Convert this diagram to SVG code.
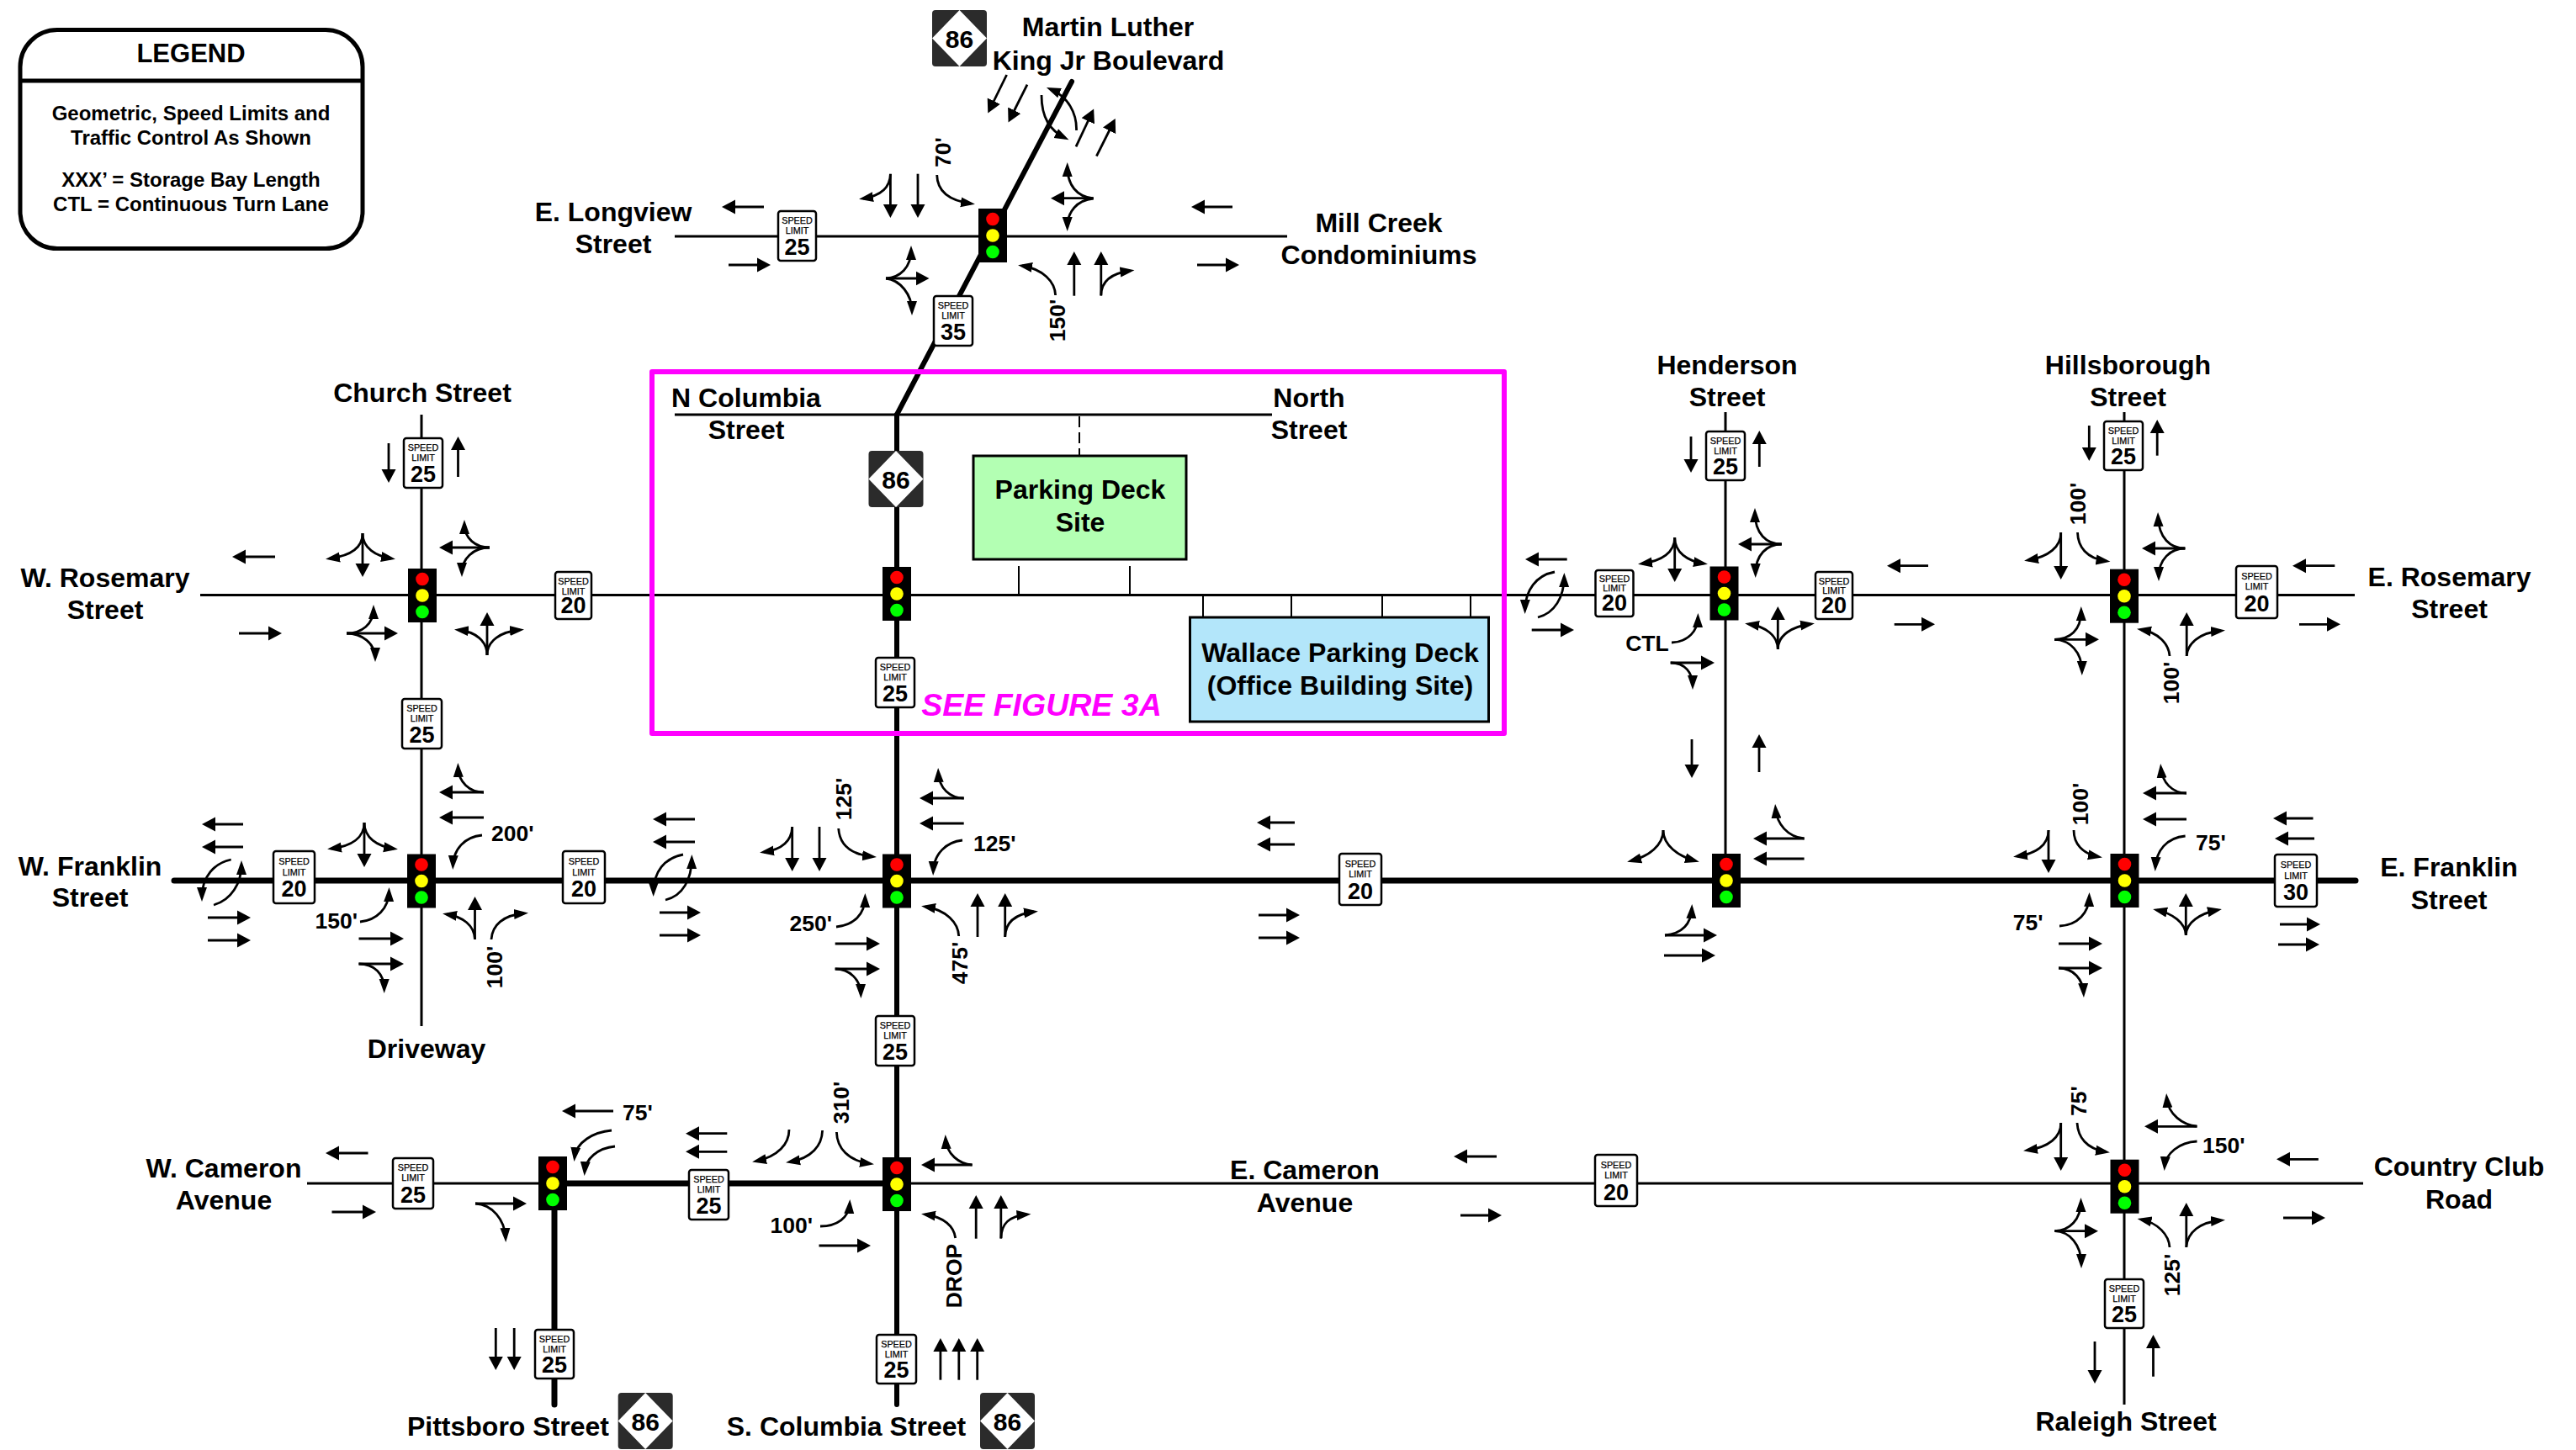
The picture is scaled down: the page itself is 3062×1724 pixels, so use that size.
<svg xmlns="http://www.w3.org/2000/svg" width="3062" height="1724" viewBox="0 0 3062 1724">
<style>
text{font-family:"Liberation Sans",Arial,sans-serif;font-weight:700;fill:#000;text-anchor:middle}
.l{font-size:32px}
.d{font-size:26.5px}
.e{text-anchor:end}
.st{text-anchor:start}
.lg{font-size:24px}
.s{font-size:10.8px;font-weight:400;stroke:#000;stroke-width:.25}
.num{font-size:27px}
.sg{fill:#fff;stroke:#000;stroke-width:2.5}
.thin,.thick,.stub,.a,.b,.n{fill:none;stroke:#000}
.thin{stroke-width:3}
.thick{stroke-width:7;stroke-linecap:round}
.stub{stroke-width:2}
.a,.b,.n{stroke-width:2.8}
.b{marker-end:url(#hb)}
.n{marker-end:url(#hn)}
</style>
<defs>
<marker id="hb" markerUnits="userSpaceOnUse" markerWidth="18" markerHeight="18" refX="11" refY="9" orient="auto"><path d="M0,.5L16,9L0,17.5Z"/></marker>
<marker id="hn" markerUnits="userSpaceOnUse" markerWidth="18" markerHeight="18" refX="12" refY="9" orient="auto"><path d="M0,3L17,9L0,15Z"/></marker>
<g id="sig"><rect x="-17" y="-32" width="34" height="64" fill="#000"/><circle cy="-19.5" r="7.8" fill="#f00"/><circle r="7.8" fill="#ff0"/><circle cy="19.5" r="7.8" fill="#0f0"/></g>
<g id="shield"><rect width="65" height="67" rx="4" fill="#2b2b2b"/><path d="M32.5,0L65,33.5L32.5,67L0,33.5Z" fill="#fff"/></g>
</defs>
<rect width="3062" height="1724" fill="#fff"/>

<g id="connectors">
<g id="roads">
<path class="thin" d="M802,281H1530"/>
<path class="thick" style="stroke-width:6" d="M1274,97L1066,493"/>
<path class="thick" style="stroke-width:6" d="M1066,493V1670"/>
<path class="thin" d="M802,493H1512"/>
<path class="stub" stroke-dasharray="13,6" d="M1283,495V542"/>
<path class="stub" d="M1211,673V708M1343,673V708M1430,708V734M1535,708V734M1643,708V734M1748,708V734"/>
<path class="thin" d="M238,707.5H2799"/>
<path class="thin" d="M501,493V1220"/>
<path class="thick" d="M207,1047H2800"/>
<path class="thin" d="M2051,490V1047"/>
<path class="thin" d="M2525,490V1670"/>
<path class="thin" d="M365,1407H2809"/>
<path class="thick" style="stroke-linecap:butt" d="M657,1407H1066"/>
<path class="thick" d="M659,1407V1670"/>
</g>
<g id="arrows">
<!-- Longview / MLK -->
<path class="b" d="M908,246H863"/><path class="b" d="M866,315H911"/>
<path class="b" d="M1196.6,89L1176.5,130"/><path class="b" d="M1221,100.7L1200.8,141"/>
<path class="n" d="M1238,113C1238,140 1248,155 1266,164"/>
<path class="n" d="M1279.5,155C1280,135 1270,115 1248.5,106"/>
<path class="b" d="M1279,174.3L1298,134"/><path class="b" d="M1303.4,185.7L1323.5,145.5"/>
<path class="b" d="M1299.6,235.7H1254"/>
<path class="n" d="M1299.6,236C1280,234 1268.7,220 1268.7,198"/>
<path class="n" d="M1299.6,236C1280,238 1268.7,252 1268.7,270"/>
<path class="b" d="M1465,246H1421"/><path class="b" d="M1423,315H1468"/>
<path class="b" d="M1058.4,206.7V254"/><path class="n" d="M1058.4,207C1058,225 1045,233 1026,236"/>
<path class="b" d="M1091,206.7V254"/>
<path class="n" d="M1113.7,208C1114,225 1125,238 1154,242"/>
<path class="b" d="M1053,331H1099.5"/>
<path class="n" d="M1053,331C1070,330 1083,318 1083,297"/>
<path class="n" d="M1053,331C1070,333 1084,350 1084,370"/>
<path class="n" d="M1254.6,351C1254,335 1240,320 1215,316"/>
<path class="b" d="M1276.8,351.7V304"/><path class="b" d="M1308.8,351.7V304"/>
<path class="n" d="M1308.8,351C1309,335 1320,325 1343.5,322"/>
<!-- Church / Rosemary -->
<path class="b" d="M431,634V681"/><path class="n" d="M431,634C431,652 415,661 392,664"/><path class="n" d="M431,634C431,652 447,661 465,664"/>
<path class="b" d="M582,651H527"/><path class="n" d="M582,651C565,651 552,640 552,623"/><path class="n" d="M582,651C562,651 549,665 549,681"/>
<path class="b" d="M412,753H468"/><path class="n" d="M412,753C430,753 444,742 444,724"/><path class="n" d="M412,753C430,753 446,765 446,782"/>
<path class="b" d="M579,779V733"/><path class="n" d="M579,779C579,762 565,751 545,749"/><path class="n" d="M579,779C579,762 595,751 618,749"/>
<path class="b" d="M327,662H281"/><path class="b" d="M284,753H330"/>
<path class="b" d="M462,527V569"/><path class="b" d="M544.5,567V524"/>
<!-- Church / Franklin -->
<path class="b" d="M289,980H245"/><path class="b" d="M289,1007H245"/>
<path class="n" d="M274.7,1022C255,1026 240,1042 240,1067"/>
<path class="n" d="M254,1076C275,1070 287,1050 287,1028"/>
<path class="b" d="M247,1091H293"/><path class="b" d="M247,1118H293"/>
<path class="b" d="M433,978V1026"/><path class="n" d="M433,978C433,996 418,1006 394,1009"/><path class="n" d="M433,978C433,996 448,1006 468,1009"/>
<path class="n" d="M428,1096C448,1094 462,1080 462.4,1060"/>
<path class="b" d="M426.5,1116H475"/><path class="b" d="M426.5,1146H475"/>
<path class="n" d="M426.5,1146C445,1146 456.7,1158 456.7,1176"/>
<path class="b" d="M564.5,1117V1071"/><path class="n" d="M564.5,1117C564,1100 550,1090 531,1087"/>
<path class="n" d="M584,1117C585,1100 598,1088 623,1086"/>
<path class="b" d="M575,942H527"/><path class="n" d="M575,942C558,942 545,930 544.5,912"/>
<path class="b" d="M575,972H527"/>
<path class="n" d="M573,993C552,995 539,1010 538.4,1029"/>
<!-- Main / Franklin -->
<path class="b" d="M826,974H781"/><path class="b" d="M826,1001H781"/>
<path class="n" d="M812,1016C790,1020 777,1036 776.7,1061"/>
<path class="n" d="M791,1070C812,1065 822,1045 822.3,1021"/>
<path class="b" d="M784,1085H828"/><path class="b" d="M784,1112H828"/>
<path class="b" d="M941.7,983V1031"/><path class="n" d="M941.7,983C941,1000 930,1010 908,1013"/>
<path class="b" d="M974,983V1031"/>
<path class="n" d="M996.7,985C998,1005 1012,1016 1037,1018.5"/>
<path class="b" d="M1145.7,949H1098"/><path class="n" d="M1145.7,949C1130,949 1116,938 1115.3,918"/>
<path class="b" d="M1145.7,979H1098"/>
<path class="n" d="M1144,999C1125,1001 1110,1015 1109.3,1036"/>
<path class="n" d="M1139.7,1113C1139,1097 1125,1082 1100,1078"/>
<path class="b" d="M1162,1114V1067"/><path class="b" d="M1194.7,1114V1067"/>
<path class="n" d="M1194.7,1114C1195,1098 1205,1087 1229,1084"/>
<path class="n" d="M994,1102C1015,1100 1028,1087 1028.3,1067"/>
<path class="b" d="M992.7,1122H1041"/><path class="b" d="M992.7,1152H1041"/>
<path class="n" d="M992.7,1152C1010,1152 1023,1165 1023.3,1182"/>
<!-- Henderson / Franklin -->
<path class="b" d="M1539,978H1499"/><path class="b" d="M1539,1004H1499"/>
<path class="b" d="M1496,1088H1540"/><path class="b" d="M1496,1115H1540"/>
<path class="b" d="M2011,879V920"/><path class="b" d="M2091,918V878"/>
<path class="n" d="M1977,987C1977,1005 1960,1018 1939,1023.5"/><path class="n" d="M1977,987C1977,1005 1995,1018 2015,1023.5"/>
<path class="b" d="M2144.6,997H2089"/><path class="n" d="M2144.6,997C2125,995 2112,980 2110.5,961"/>
<path class="b" d="M2144.6,1021H2089"/>
<path class="b" d="M1979,1112H2036"/><path class="n" d="M1979,1112C1998,1110 2010,1100 2011,1080"/>
<path class="b" d="M1978,1136H2034"/>
<!-- Hillsborough / Franklin -->
<path class="b" d="M2435,987V1033"/><path class="n" d="M2435,987C2435,1005 2420,1015 2398,1018"/>
<path class="n" d="M2465,987C2465,1003 2475,1015 2494,1018.5"/>
<path class="b" d="M2599,943H2552"/><path class="n" d="M2599,943C2582,943 2570,930 2568.6,913"/>
<path class="b" d="M2599,974H2552"/>
<path class="n" d="M2597.6,994C2575,996 2563,1012 2562,1031"/>
<path class="b" d="M2749.5,973H2707"/><path class="b" d="M2751,997H2709"/>
<path class="b" d="M2710,1099H2753"/><path class="b" d="M2708,1123H2752"/>
<path class="b" d="M2598.3,1112V1067"/><path class="n" d="M2598.3,1112C2598,1097 2582,1086 2564,1082"/><path class="n" d="M2598.3,1112C2598.5,1097 2615,1086 2636,1082"/>
<path class="n" d="M2448,1101C2470,1100 2483,1085 2483.4,1066"/>
<path class="b" d="M2447,1122H2494"/><path class="b" d="M2447,1151H2494"/>
<path class="n" d="M2447,1151C2465,1151 2476,1165 2476.7,1181"/>
<!-- Henderson / Rosemary -->
<path class="b" d="M2010,519V557"/><path class="b" d="M2091.3,555V517"/>
<path class="b" d="M1862.7,665H1818"/>
<path class="n" d="M1848,680C1826,684 1813,702 1812.7,725"/>
<path class="n" d="M1828,734C1848,729 1859,710 1859.3,686"/>
<path class="b" d="M1820.7,749H1866"/>
<path class="b" d="M1990.7,639V687"/><path class="n" d="M1990.7,639C1990.7,657 1975,667 1952,670"/><path class="n" d="M1990.7,639C1990.7,657 2006,667 2025,670"/>
<path class="b" d="M2117.7,647H2071"/><path class="n" d="M2117.7,647C2100,647 2086,635 2086,609"/><path class="n" d="M2117.7,647C2100,647 2086.7,660 2086.7,682"/>
<path class="b" d="M2113.3,772V726"/><path class="n" d="M2113.3,772C2113,755 2098,745 2079,742"/><path class="n" d="M2113.3,772C2113.5,755 2130,745 2152,742"/>
<path class="n" d="M1987,764C2007,763 2018,750 2018.3,734"/>
<path class="b" d="M1985.7,788H2033"/><path class="n" d="M1985.7,788C2003,788 2012,800 2012,815"/>
<path class="b" d="M2292,672.7H2248"/><path class="b" d="M2251.7,742.3H2295"/>
<!-- Hillsborough / Rosemary -->
<path class="b" d="M2483.3,506V543"/><path class="b" d="M2564.2,541.7V504"/>
<path class="b" d="M2449.7,633V684"/><path class="n" d="M2449.7,633C2450,650 2435,662 2411,666"/>
<path class="n" d="M2469.5,633C2470,650 2480,664 2503.5,667"/>
<path class="b" d="M2597.3,652H2551"/><path class="n" d="M2597.3,652C2580,652 2566,640 2565.2,614"/><path class="n" d="M2597.3,652C2580,652 2566,665 2566,686"/>
<path class="b" d="M2775.3,672.7H2730"/><path class="b" d="M2733,742.3H2777"/>
<path class="b" d="M2442,760.3H2490"/><path class="n" d="M2442,760.3C2460,760 2473.8,750 2473.8,726"/><path class="n" d="M2442,760.3C2460,760.5 2474.8,775 2474.8,798"/>
<path class="n" d="M2579,780C2578,765 2565,752 2545,748.5"/>
<path class="b" d="M2599.2,780V733"/><path class="n" d="M2599.2,780C2600,765 2615,752 2640,750"/>
<!-- W Cameron -->
<path class="b" d="M437.5,1371H392"/><path class="b" d="M394.5,1441H442"/>
<path class="b" d="M729,1321H673"/>
<path class="n" d="M727,1344C705,1346 685,1358 683,1376"/>
<path class="n" d="M731,1363C710,1365 696,1378 695,1393"/>
<path class="b" d="M864.3,1347.7H820"/><path class="b" d="M864.3,1369.3H820"/>
<path class="n" d="M938,1343C938,1360 925,1375 899,1380.5"/>
<path class="n" d="M977.6,1344C977,1362 965,1377 939,1381.5"/>
<path class="n" d="M994.4,1346C995,1365 1008,1380 1034,1383.5"/>
<path class="b" d="M1155.6,1385H1100"/><path class="n" d="M1155.6,1385C1140,1384 1125,1372 1124,1354"/>
<path class="n" d="M975,1458C995,1458 1009,1448 1010,1431"/>
<path class="b" d="M973.5,1481H1030"/>
<path class="n" d="M1135.7,1472C1134,1458 1122,1447 1100,1444"/>
<path class="b" d="M1160.2,1472.7V1426"/><path class="b" d="M1189.8,1472.7V1426"/>
<path class="n" d="M1190,1472C1190,1456 1198,1446 1220.5,1444"/>
<path class="b" d="M565,1431H621"/><path class="n" d="M565,1431C585,1432 600,1450 601,1472"/>
<path class="b" d="M589.3,1579V1624"/><path class="b" d="M611.2,1579V1624"/>
<path class="b" d="M1117.9,1640.7V1596"/><path class="b" d="M1139.8,1640.7V1596"/><path class="b" d="M1161.7,1640.7V1596"/>
<path class="b" d="M1779,1375H1733"/><path class="b" d="M1736,1445H1780"/>
<!-- Country Club -->
<path class="b" d="M2449.7,1335V1387"/><path class="n" d="M2449.7,1335C2450,1352 2435,1364 2410,1367.5"/>
<path class="n" d="M2469,1335C2470,1352 2480,1366 2503,1369.5"/>
<path class="b" d="M2611.5,1339.3H2554"/><path class="n" d="M2611.5,1339C2595,1338 2577,1325 2575.5,1305"/>
<path class="n" d="M2611.5,1357C2590,1358 2574,1372 2573,1387"/>
<path class="b" d="M2755.8,1378.3H2711"/><path class="b" d="M2714,1448H2759"/>
<path class="b" d="M2442.4,1463.7H2489"/><path class="n" d="M2442.4,1463.7C2460,1463 2473.5,1450 2473.5,1429"/><path class="n" d="M2442.4,1463.7C2460,1464 2474,1480 2474,1503"/>
<path class="n" d="M2579,1483C2578,1468 2565,1454 2545.5,1450"/>
<path class="b" d="M2598.8,1482.7V1435"/><path class="n" d="M2598.8,1483C2600,1465 2615,1453 2640,1451"/>
<path class="b" d="M2490,1595V1640"/><path class="b" d="M2559.5,1636.7V1592"/>
</g>
</g>

<g id="see-figure-box">
<rect x="775" y="442" width="1013" height="430" fill="none" stroke="#f0f" stroke-width="6" stroke-linejoin="round"/>
<text x="1238" y="851" font-size="37.5" font-style="italic" style="fill:#f0f">SEE FIGURE 3A</text>
</g>

<g id="legend">
<rect x="24" y="35.5" width="407" height="260" rx="44" fill="#fff" stroke="#000" stroke-width="5"/>
<path d="M24,96H431" stroke="#000" stroke-width="5"/>
<text x="227" y="74" font-size="31">LEGEND</text>
<text class="lg" x="227" y="143">Geometric, Speed Limits and</text>
<text class="lg" x="227" y="172">Traffic Control As Shown</text>
<text class="lg" x="227" y="222">XXX’ = Storage Bay Length</text>
<text class="lg" x="227" y="251">CTL = Continuous Turn Lane</text>
</g>

<g id="parking-deck-site"><rect x="1157" y="542" width="253" height="123" fill="#b3ffb3" stroke="#000" stroke-width="3"/><text x="1284" y="593" font-size="32">Parking Deck</text><text x="1284" y="632" font-size="32">Site</text></g>
<g id="wallace-parking-deck"><rect x="1414.5" y="734" width="355" height="124" fill="#b3e6fa" stroke="#000" stroke-width="3"/><text x="1593" y="787" font-size="32">Wallace Parking Deck</text><text x="1593" y="826" font-size="32">(Office Building Site)</text></g>

<g id="signal-longview"><use href="#sig" x="1180" y="280"/></g>
<g id="signal-church-rosemary"><use href="#sig" x="502" y="708"/></g>
<g id="signal-columbia-rosemary"><use href="#sig" x="1066" y="706"/></g>
<g id="signal-henderson-rosemary"><use href="#sig" x="2049.5" y="705.5"/></g>
<g id="signal-hillsborough-rosemary"><use href="#sig" x="2525" y="708.7"/></g>
<g id="signal-church-franklin"><use href="#sig" x="501" y="1047.5"/></g>
<g id="signal-columbia-franklin"><use href="#sig" x="1066" y="1047.5"/></g>
<g id="signal-henderson-franklin"><use href="#sig" x="2052" y="1047"/></g>
<g id="signal-hillsborough-franklin"><use href="#sig" x="2525.5" y="1047"/></g>
<g id="signal-pittsboro-cameron"><use href="#sig" x="657" y="1407"/></g>
<g id="signal-columbia-cameron"><use href="#sig" x="1066" y="1408"/></g>
<g id="signal-raleigh-cameron"><use href="#sig" x="2525.5" y="1410.7"/></g>

<g id="sign-1" transform="translate(947.5,251)"><rect class="sg" x="-22.5" width="45" height="59" rx="3"/><text class="s" y="15">SPEED</text><text class="s" y="27">LIMIT</text><text class="num" y="52">25</text></g>
<g id="sign-2" transform="translate(1133,352)"><rect class="sg" x="-23" width="46" height="59" rx="3"/><text class="s" y="15">SPEED</text><text class="s" y="27">LIMIT</text><text class="num" y="52">35</text></g>
<g id="sign-3" transform="translate(503,521)"><rect class="sg" x="-23" width="46" height="59" rx="3"/><text class="s" y="15">SPEED</text><text class="s" y="27">LIMIT</text><text class="num" y="52">25</text></g>
<g id="sign-4" transform="translate(501.5,831)"><rect class="sg" x="-23.5" width="47" height="59" rx="3"/><text class="s" y="15">SPEED</text><text class="s" y="27">LIMIT</text><text class="num" y="52">25</text></g>
<g id="sign-5" transform="translate(681.5,680)"><rect class="sg" x="-21.5" width="43" height="56" rx="3"/><text class="s" y="15">SPEED</text><text class="s" y="27">LIMIT</text><text class="num" y="49">20</text></g>
<g id="sign-6" transform="translate(1064,782)"><rect class="sg" x="-23" width="46" height="59" rx="3"/><text class="s" y="15">SPEED</text><text class="s" y="27">LIMIT</text><text class="num" y="52">25</text></g>
<g id="sign-7" transform="translate(2051,513)"><rect class="sg" x="-23" width="46" height="58" rx="3"/><text class="s" y="15">SPEED</text><text class="s" y="27">LIMIT</text><text class="num" y="51">25</text></g>
<g id="sign-8" transform="translate(1919,678)"><rect class="sg" x="-22.5" width="45" height="55" rx="3"/><text class="s" y="14">SPEED</text><text class="s" y="25">LIMIT</text><text class="num" y="48">20</text></g>
<g id="sign-9" transform="translate(2180,680)"><rect class="sg" x="-22" width="44" height="56" rx="3"/><text class="s" y="15">SPEED</text><text class="s" y="26">LIMIT</text><text class="num" y="49">20</text></g>
<g id="sign-10" transform="translate(2524,501)"><rect class="sg" x="-23" width="46" height="58" rx="3"/><text class="s" y="15">SPEED</text><text class="s" y="27">LIMIT</text><text class="num" y="51">25</text></g>
<g id="sign-11" transform="translate(2682.5,673)"><rect class="sg" x="-24.5" width="49" height="62" rx="3"/><text class="s" y="16">SPEED</text><text class="s" y="28">LIMIT</text><text class="num" y="54">20</text></g>
<g id="sign-12" transform="translate(349.5,1012)"><rect class="sg" x="-24.5" width="49" height="62" rx="3"/><text class="s" y="16">SPEED</text><text class="s" y="29">LIMIT</text><text class="num" y="54">20</text></g>
<g id="sign-13" transform="translate(694,1012)"><rect class="sg" x="-25" width="50" height="62" rx="3"/><text class="s" y="16">SPEED</text><text class="s" y="29">LIMIT</text><text class="num" y="54">20</text></g>
<g id="sign-14" transform="translate(1617,1015)"><rect class="sg" x="-25" width="50" height="61" rx="3"/><text class="s" y="16">SPEED</text><text class="s" y="28">LIMIT</text><text class="num" y="54">20</text></g>
<g id="sign-15" transform="translate(2729,1016)"><rect class="sg" x="-25" width="50" height="62" rx="3"/><text class="s" y="16">SPEED</text><text class="s" y="29">LIMIT</text><text class="num" y="54">30</text></g>
<g id="sign-16" transform="translate(1064,1208)"><rect class="sg" x="-23" width="46" height="59" rx="3"/><text class="s" y="15">SPEED</text><text class="s" y="27">LIMIT</text><text class="num" y="52">25</text></g>
<g id="sign-17" transform="translate(491,1377)"><rect class="sg" x="-24" width="48" height="60" rx="3"/><text class="s" y="15">SPEED</text><text class="s" y="27">LIMIT</text><text class="num" y="53">25</text></g>
<g id="sign-18" transform="translate(842.5,1391)"><rect class="sg" x="-23.5" width="47" height="59" rx="3"/><text class="s" y="15">SPEED</text><text class="s" y="27">LIMIT</text><text class="num" y="52">25</text></g>
<g id="sign-19" transform="translate(1921,1373)"><rect class="sg" x="-25" width="50" height="61" rx="3"/><text class="s" y="16">SPEED</text><text class="s" y="28">LIMIT</text><text class="num" y="54">20</text></g>
<g id="sign-20" transform="translate(659,1581)"><rect class="sg" x="-23" width="46" height="58" rx="3"/><text class="s" y="15">SPEED</text><text class="s" y="27">LIMIT</text><text class="num" y="51">25</text></g>
<g id="sign-21" transform="translate(1065.5,1587)"><rect class="sg" x="-23.5" width="47" height="58" rx="3"/><text class="s" y="15">SPEED</text><text class="s" y="27">LIMIT</text><text class="num" y="51">25</text></g>
<g id="sign-22" transform="translate(2525,1521)"><rect class="sg" x="-23" width="46" height="58" rx="3"/><text class="s" y="15">SPEED</text><text class="s" y="27">LIMIT</text><text class="num" y="51">25</text></g>

<g id="shield-north" transform="translate(1108,12)"><use href="#shield"/><text x="32.5" y="45" font-size="30">86</text></g>
<g id="shield-columbia" transform="translate(1032.5,536)"><use href="#shield"/><text x="32.5" y="45" font-size="30">86</text></g>
<g id="shield-pittsboro" transform="translate(734.7,1656)"><use href="#shield"/><text x="32.5" y="45" font-size="30">86</text></g>
<g id="shield-south" transform="translate(1165,1656)"><use href="#shield"/><text x="32.5" y="45" font-size="30">86</text></g>

<g id="road-labels">
<text class="l" x="1317" y="43">Martin Luther</text><text class="l" x="1317.5" y="83">King Jr Boulevard</text>
<text class="l" x="729" y="263">E. Longview</text><text class="l" x="729" y="301">Street</text>
<text class="l" x="1639" y="276">Mill Creek</text><text class="l" x="1639" y="314">Condominiums</text>
<text class="l" x="502" y="478">Church Street</text>
<text class="l" x="125" y="698">W. Rosemary</text><text class="l" x="125" y="736">Street</text>
<text class="l" x="887" y="484">N Columbia</text><text class="l" x="887" y="522">Street</text>
<text class="l" x="1556" y="484">North</text><text class="l" x="1556" y="522">Street</text>
<text class="l" x="2053" y="445">Henderson</text><text class="l" x="2053" y="483">Street</text>
<text class="l" x="2529.5" y="445">Hillsborough</text><text class="l" x="2529.5" y="483">Street</text>
<text class="l" x="2911.5" y="697">E. Rosemary</text><text class="l" x="2911.5" y="735">Street</text>
<text class="l" x="2911" y="1042">E. Franklin</text><text class="l" x="2911" y="1081">Street</text>
<text class="l" x="107" y="1041">W. Franklin</text><text class="l" x="107" y="1078">Street</text>
<text class="l" x="507" y="1258">Driveway</text>
<text class="l" x="266" y="1400">W. Cameron</text><text class="l" x="266" y="1438">Avenue</text>
<text class="l" x="1551" y="1402">E. Cameron</text><text class="l" x="1551" y="1441">Avenue</text>
<text class="l" x="2923" y="1398">Country Club</text><text class="l" x="2923" y="1437">Road</text>
<text class="l" x="2527" y="1701">Raleigh Street</text>
<text class="l e" x="724" y="1707">Pittsboro Street</text>
<text class="l" x="1006" y="1707">S. Columbia Street</text>
</g>

<g id="dimension-labels">
<text class="d" transform="translate(1130,181) rotate(-90)">70'</text>
<text class="d" transform="translate(1266,381) rotate(-90)">150'</text>
<text class="d e" x="425" y="1104">150'</text>
<text class="d st" x="584" y="1000">200'</text>
<text class="d" transform="translate(597,1150) rotate(-90)">100'</text>
<text class="d" transform="translate(1012,950) rotate(-90)">125'</text>
<text class="d st" x="1157" y="1012">125'</text>
<text class="d" transform="translate(1150,1145) rotate(-90)">475'</text>
<text class="d e" x="989" y="1107">250'</text>
<text class="d" transform="translate(2482,956) rotate(-90)">100'</text>
<text class="d st" x="2610" y="1011">75'</text>
<text class="d e" x="2428.5" y="1106">75'</text>
<text class="d" x="1958" y="774">CTL</text>
<text class="d" transform="translate(2479,599) rotate(-90)">100'</text>
<text class="d" transform="translate(2590,812) rotate(-90)">100'</text>
<text class="d st" x="740" y="1332">75'</text>
<text class="d" transform="translate(1009,1311) rotate(-90)">310'</text>
<text class="d e" x="966" y="1466">100'</text>
<text class="d" transform="translate(1143,1517) rotate(-90)">DROP</text>
<text class="d" transform="translate(2480,1309) rotate(-90)">75'</text>
<text class="d st" x="2618" y="1371">150'</text>
<text class="d" transform="translate(2590.5,1516) rotate(-90)">125'</text>
</g>
</svg>
